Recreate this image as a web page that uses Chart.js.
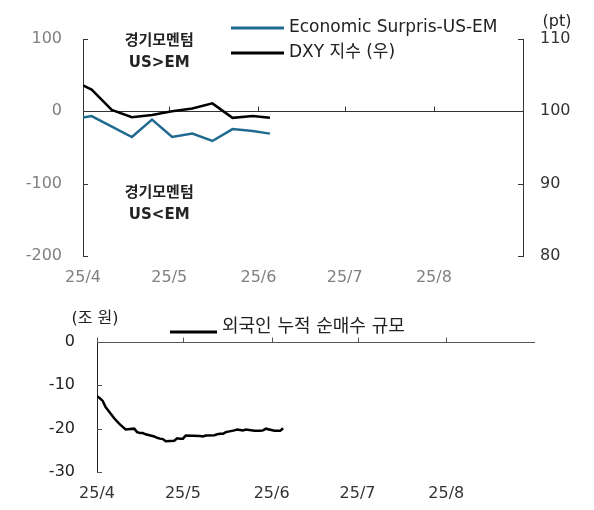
<!DOCTYPE html>
<html>
<head>
<meta charset="utf-8">
<script src="https://cdn.jsdelivr.net/npm/chart.js@4.4.1/dist/chart.umd.min.js"></script>
<style>
  body { margin: 0; background: #fff; width: 594px; height: 510px; overflow: hidden; }
  .box { position: absolute; left: 0; }
</style>
</head>
<body>
<div class="box" style="top:0"><canvas id="topChart" width="594" height="290"></canvas></div>
<div class="box" style="top:290px"><canvas id="bottomChart" width="594" height="220"></canvas></div>
<script>
// x axis = days since 2025-04-01
const monthTicks = [0, 30, 61, 91, 122];
const monthLabels = ['25/4', '25/5', '25/6', '25/7', '25/8'];

const surpriseDays = [0, 3, 17, 24, 31, 38, 45, 52, 59, 65];
const surpriseValues = [-8.7, -6.5, -35.5, -11.5, -35.5, -30.8, -41, -24.5, -27.2, -30.8];

const dxyDays = [0, 3, 10, 17, 24, 31, 38, 45, 52, 59, 65];
const dxyValues = [103.6, 103.0, 100.2, 99.2, 99.5, 100.0, 100.4, 101.1, 99.1, 99.35, 99.1];

const flowDays = [0, 1, 2, 3, 6, 7, 8, 9, 10, 13, 14, 15, 16, 17, 20, 21, 22, 23, 24, 27, 28, 29, 30, 31,
                  36, 37, 38, 41, 42, 43, 44, 45, 48, 49, 50, 51, 52, 55, 56, 57, 58, 59, 62, 64, 65];
const flowValues = [-12.5, -13.0, -13.6, -15.0, -17.6, -18.3, -19.0, -19.6, -20.2, -20.0, -20.8, -21.0, -21.0, -21.3, -21.8,
                    -22.1, -22.3, -22.4, -22.9, -22.8, -22.2, -22.3, -22.3, -21.6, -21.7, -21.8, -21.6, -21.5, -21.3, -21.2,
                    -21.2, -20.8, -20.4, -20.2, -20.3, -20.4, -20.2, -20.5, -20.5, -20.5, -20.4, -20.0, -20.5, -20.5, -19.9, -19.2];

const leftTicks = [-200, -100, 0, 100];
const rightTicks = [80, 90, 100, 110];
const flowTicks = [-30, -20, -10, 0];

const toPoints = (xs, ys) => xs.map((x, i) => ({ x: x, y: ys[i] }));

Chart.defaults.font.family = '"DejaVu Sans", "Noto Sans CJK KR", sans-serif';
Chart.defaults.font.size = 16;
Chart.defaults.animation = false;

// axis line at y=0 plus inward tick marks
const axisMarks = {
  id: 'axisMarks',
  beforeDatasetsDraw(chart, args, opts) {
    const { ctx, chartArea: a, scales } = chart;
    ctx.save();
    ctx.strokeStyle = opts.color || '#333';
    ctx.lineWidth = 1;
    ctx.beginPath();
    const y0 = Math.round(scales.y.getPixelForValue(0)) + 0.5;
    ctx.moveTo(a.left, y0);
    ctx.lineTo(a.right, y0);
    scales.x.ticks.forEach(t => {
      const x = Math.round(scales.x.getPixelForValue(t.value)) + 0.5;
      ctx.moveTo(x, y0);
      ctx.lineTo(x, y0 - 5);
    });
    ['y', 'y2'].forEach(id => {
      const s = scales[id];
      if (!s) return;
      const left = s.position === 'left';
      const x = left ? a.left : a.right;
      s.ticks.forEach(t => {
        const y = Math.round(s.getPixelForValue(t.value)) + 0.5;
        ctx.moveTo(x, y);
        ctx.lineTo(left ? x + 5 : x - 5, y);
      });
    });
    ctx.stroke();
    ctx.restore();
  }
};

// legend, unit labels and notes
const overlay = {
  id: 'overlay',
  afterDraw(chart, args, opts) {
    const { ctx, scales } = chart;
    ctx.save();
    ctx.textBaseline = 'middle';
    (opts.legend || []).forEach((item, i) => {
      const ds = chart.data.datasets[i];
      ctx.strokeStyle = ds.borderColor;
      ctx.lineWidth = 3;
      ctx.beginPath();
      ctx.moveTo(item.x1, item.y);
      ctx.lineTo(item.x2, item.y);
      ctx.stroke();
      ctx.fillStyle = '#222';
      ctx.font = opts.legendFont;
      ctx.textAlign = 'left';
      ctx.fillText(ds.label, item.x2 + 5, item.ty);
    });
    (opts.units || []).forEach(u => {
      ctx.fillStyle = '#222';
      ctx.font = '16px "DejaVu Sans", "Noto Sans CJK KR", sans-serif';
      ctx.textAlign = 'center';
      ctx.fillText(u.text, u.x, u.y);
    });
    (opts.notes || []).forEach(n => {
      ctx.fillStyle = '#222';
      ctx.font = 'bold 15px "DejaVu Sans", "Noto Sans CJK KR", sans-serif';
      ctx.textAlign = 'center';
      ctx.fillText(n.text, scales.x.getPixelForValue(n.day), scales.y.getPixelForValue(n.value));
    });
    ctx.restore();
  }
};

const monthAxis = (color, height, pad) => ({
  type: 'linear',
  min: 0,
  max: 153,
  afterBuildTicks: s => { s.ticks = monthTicks.map(v => ({ value: v })); },
  afterFit: s => { s.height = height; },
  ticks: {
    color: color,
    padding: pad,
    maxRotation: 0,
    autoSkip: false,
    callback: (v, i) => monthLabels[i]
  },
  grid: { display: false, drawTicks: false },
  border: { display: false }
});

new Chart(document.getElementById('topChart'), {
  type: 'line',
  data: {
    datasets: [
      {
        label: 'Economic Surpris-US-EM',
        data: toPoints(surpriseDays, surpriseValues),
        borderColor: '#1f6a8e',
        borderWidth: 2.5,
        pointRadius: 0,
        tension: 0,
        yAxisID: 'y'
      },
      {
        label: 'DXY 지수 (우)',
        data: toPoints(dxyDays, dxyValues),
        borderColor: '#000000',
        borderWidth: 2.5,
        pointRadius: 0,
        tension: 0,
        yAxisID: 'y2'
      }
    ]
  },
  options: {
    responsive: false,
    layout: { padding: { top: 39, left: 0, right: 0, bottom: 0 } },
    plugins: {
      legend: { display: false },
      tooltip: { enabled: false },
      axisMarks: { color: '#333' },
      overlay: {
        legendFont: '17px "DejaVu Sans", "Noto Sans CJK KR", sans-serif',
        legend: [
          { x1: 231, x2: 284, y: 28, ty: 28 },
          { x1: 231, x2: 284, y: 53, ty: 53 }
        ],
        units: [{ text: '(pt)', x: 557, y: 22 }],
        notes: [
          { text: '경기모멘텀', day: 26.5, value: 97 },
          { text: 'US>EM', day: 26.5, value: 67 },
          { text: '경기모멘텀', day: 26.5, value: -113 },
          { text: 'US<EM', day: 26.5, value: -143 }
        ]
      }
    },
    scales: {
      x: monthAxis('#808080', 34, 12),
      y: {
        position: 'left',
        min: leftTicks[0],
        max: leftTicks[leftTicks.length - 1],
        afterBuildTicks: s => { s.ticks = leftTicks.map(v => ({ value: v })); },
        afterFit: s => { s.width = 83; },
        ticks: { color: '#808080', padding: 21 },
        grid: { display: false, drawTicks: false },
        border: { color: '#333' }
      },
      y2: {
        position: 'right',
        min: rightTicks[0],
        max: rightTicks[rightTicks.length - 1],
        afterBuildTicks: s => { s.ticks = rightTicks.map(v => ({ value: v })); },
        afterFit: s => { s.width = 71; },
        ticks: { color: '#333', padding: 17 },
        grid: { display: false, drawTicks: false },
        border: { color: '#333' }
      }
    }
  },
  plugins: [axisMarks, overlay]
});

new Chart(document.getElementById('bottomChart'), {
  type: 'line',
  data: {
    datasets: [
      {
        label: '외국인 누적 순매수 규모',
        data: toPoints(flowDays, flowValues),
        borderColor: '#000000',
        borderWidth: 2.5,
        pointRadius: 0,
        tension: 0
      }
    ]
  },
  options: {
    responsive: false,
    layout: { padding: { top: 52, left: 0, right: 59, bottom: 0 } },
    plugins: {
      legend: { display: false },
      tooltip: { enabled: false },
      axisMarks: { color: '#555' },
      overlay: {
        legendFont: '18px "DejaVu Sans", "Noto Sans CJK KR", sans-serif',
        legend: [{ x1: 170, x2: 217, y: 42, ty: 37 }],
        units: [{ text: '(조 원)', x: 95, y: 29 }]
      }
    },
    scales: {
      x: monthAxis('#333', 38, 12),
      y: {
        position: 'left',
        min: flowTicks[0],
        max: flowTicks[flowTicks.length - 1],
        afterBuildTicks: s => { s.ticks = flowTicks.map(v => ({ value: v })); },
        afterFit: s => { s.width = 97; },
        ticks: { color: '#222', padding: 22 },
        grid: { display: false, drawTicks: false },
        border: { color: '#222' }
      }
    }
  },
  plugins: [axisMarks, overlay]
});
</script>
</body>
</html>
